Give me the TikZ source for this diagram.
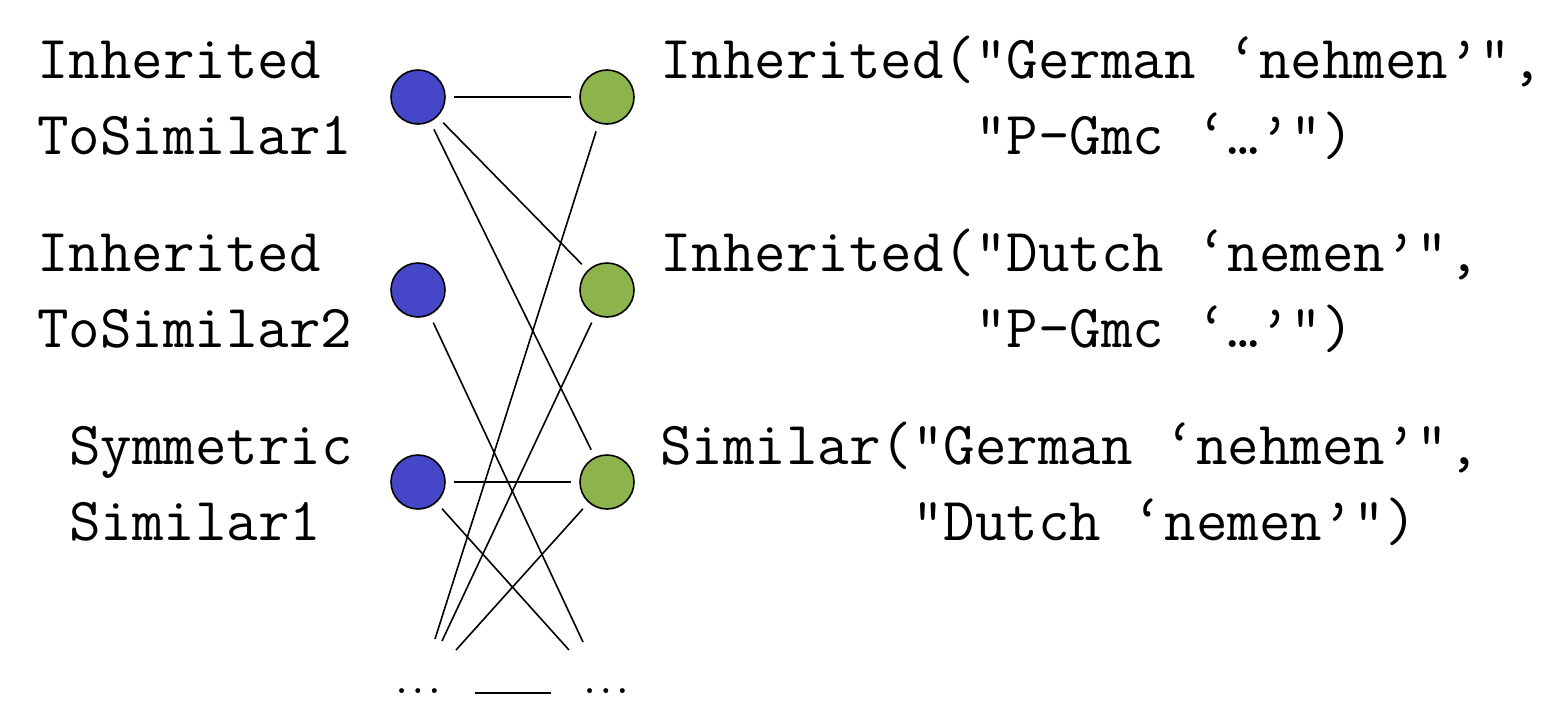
\documentclass[tikz,border=0pt]{standalone}
\usepackage{fontspec}
\definecolor{nodeblue}{RGB}{70,70,200}
\definecolor{nodegreen}{RGB}{141,180,76}
\begin{document}
\begin{tikzpicture}[x=1pt,y=-1pt,
  vtx/.style={circle, draw=black, line width=1.6pt, minimum size=54pt, inner sep=0pt, outer sep=9pt},
  bnode/.style={vtx, fill=nodeblue},
  gnode/.style={vtx, fill=nodegreen},
  link/.style={line width=1.6pt},
  lbl/.style={font=\fontsize{61.2}{76}\selectfont\ttfamily, inner sep=0pt, anchor=base west},
  dots/.style={font=\fontsize{34}{40}\selectfont\bfseries, inner sep=0pt}]
\useasboundingbox (0,0) rectangle (1545,702);

% vertices
\node[bnode] (b1) at (418,97) {};
\node[bnode] (b2) at (418,290) {};
\node[bnode] (b3) at (418,482) {};
\node[gnode] (g1) at (607,97) {};
\node[gnode] (g2) at (607,290) {};
\node[gnode] (g3) at (607,482) {};

% free ends
\coordinate (L1) at (435,639);
\coordinate (L2) at (442,641);
\coordinate (L3) at (456,650);
\coordinate (R1) at (569,650);
\coordinate (R2) at (583,642);

% edges
\draw[link] (b1) -- (g1);
\draw[link] (b1) -- (g2);
\draw[link] (b1) -- (g3);
\draw[link] (b3) -- (g3);
\draw[link] (b2) -- (R2);
\draw[link] (b3) -- (R1);
\draw[link] (g1) -- (L1);
\draw[link] (g2) -- (L2);
\draw[link] (g3) -- (L3);

% bottom
\node[dots] (dl) at (418,691) {.\kern.17em.\kern.17em.};
\node[dots] (dr) at (606,691) {.\kern.17em.\kern.17em.};
\coordinate (ml) at (475,693);
\coordinate (mr) at (551,693);
\draw[line width=2pt] (ml) -- (mr);

% left labels
\node[lbl] (l1a) at (37,78) {Inherited};
\node[lbl] (l1b) at (37,154) {ToSimilar1};
\node[lbl] (l2a) at (37,271) {Inherited};
\node[lbl] (l2b) at (37,347) {ToSimilar2};
\node[lbl] (l3a) at (69,464) {Symmetric};
\node[lbl] (l3b) at (69,540) {Similar1};

% right labels
\node[lbl] (r1a) at (660,78) {Inherited("German ‘nehmen’",};
\node[lbl] (r1b) at (660,154) {\phantom{Inherited(}"P-Gmc ‘…’")};
\node[lbl] (r2a) at (660,271) {Inherited("Dutch ‘nemen’",};
\node[lbl] (r2b) at (660,347) {\phantom{Inherited(}"P-Gmc ‘…’")};
\node[lbl] (r3a) at (660,464) {Similar("German ‘nehmen’",};
\node[lbl] (r3b) at (660,540) {\phantom{Similar(}"Dutch ‘nemen’")};
\end{tikzpicture}
\end{document}
